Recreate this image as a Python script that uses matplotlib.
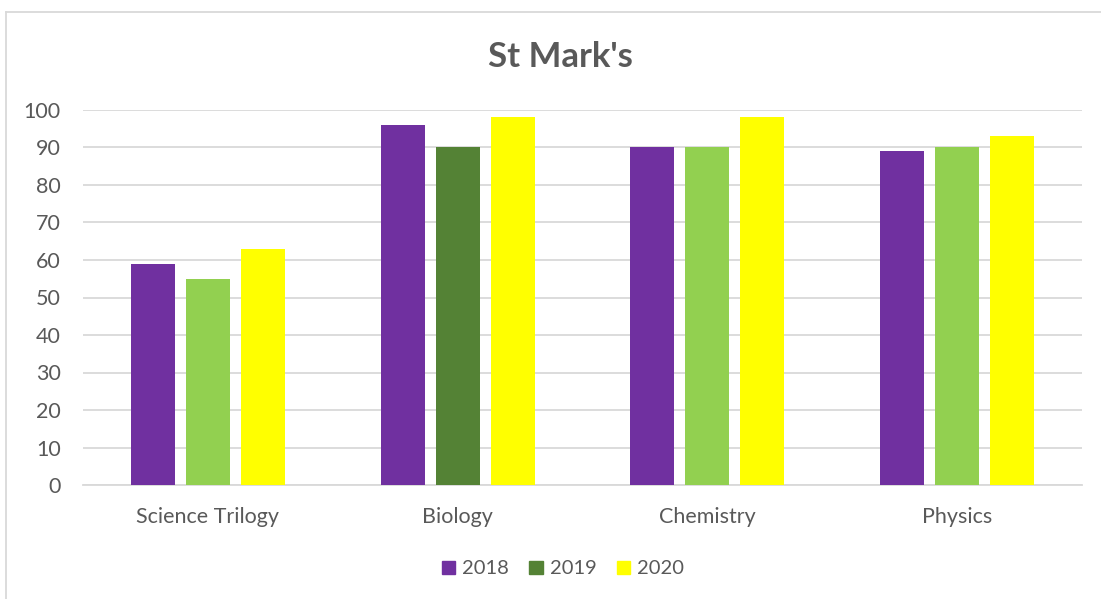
import matplotlib.pyplot as plt
import numpy as np
from matplotlib.patches import Patch
from matplotlib.lines import Line2D

# Datos del gráfico
categorias = ["Science Trilogy", "Biology", "Chemistry", "Physics"]
anios = ["2018", "2019", "2020"]
valores_2018 = [59, 96, 90, 89]
valores_2019 = [55, 90, 90, 90]
valores_2020 = [63, 98, 98, 93]

morado = "#7030A0"
verde_oscuro = "#548235"
verde_claro = "#92D050"
amarillo = "#FFFF00"
gris_texto = "#595959"

# 2019 uses dark green only for Biology (as in the original)
colores_2019 = [verde_claro, verde_oscuro, verde_claro, verde_claro]

plt.rcParams["font.family"] = ["Lato", "DejaVu Sans"]

fig = plt.figure(figsize=(11.01, 5.99), dpi=100)
ax = fig.add_axes([83 / 1101, 1 - 485 / 599, 999 / 1101, 375 / 599])

x = np.arange(len(categorias))
ancho = 0.176
paso = 0.22

ax.bar(x - paso, valores_2018, ancho, color=morado, zorder=3)
ax.bar(x, valores_2019, ancho, color=colores_2019, zorder=3)
ax.bar(x + paso, valores_2020, ancho, color=amarillo, zorder=3)

ax.set_xlim(-0.5, len(categorias) - 0.5)
ax.set_ylim(0, 100)
ax.set_yticks(range(0, 101, 10))
ax.set_xticks(x)
ax.set_xticklabels(categorias)
ax.yaxis.grid(True, color="#D9D9D9", linewidth=1.3, zorder=0)
ax.tick_params(axis="both", length=0, labelsize=15.5, colors=gris_texto)
ax.tick_params(axis="y", pad=16)
ax.tick_params(axis="x", pad=16)
for lado in ["top", "right", "left"]:
    ax.spines[lado].set_visible(False)
ax.spines["bottom"].set_color("#D9D9D9")
ax.spines["bottom"].set_linewidth(1.3)

fig.text(560 / 1101, 1 - 57 / 599, "St Mark's", ha="center", va="center",
         fontsize=25, fontweight="bold", color=gris_texto)

# Leyenda
handles = [Patch(color=morado), Patch(color=verde_oscuro), Patch(color=amarillo)]
fig.legend(handles, anios, loc="center", bbox_to_anchor=(563 / 1101, 1 - 569 / 599),
           ncol=3, frameon=False, fontsize=14.5, labelcolor=gris_texto,
           handlelength=0.65, handleheight=0.65, handletextpad=0.35, columnspacing=1.03)

# Borde del área del gráfico
fig.add_artist(Line2D([6.5 / 1101, 6.5 / 1101], [0, 1 - 11.5 / 599],
                      transform=fig.transFigure, color="#D9D9D9", linewidth=1.3))
fig.add_artist(Line2D([6.5 / 1101, 1], [1 - 11.5 / 599, 1 - 11.5 / 599],
                      transform=fig.transFigure, color="#D9D9D9", linewidth=1.3))

fig.savefig("out.png", dpi=100)
